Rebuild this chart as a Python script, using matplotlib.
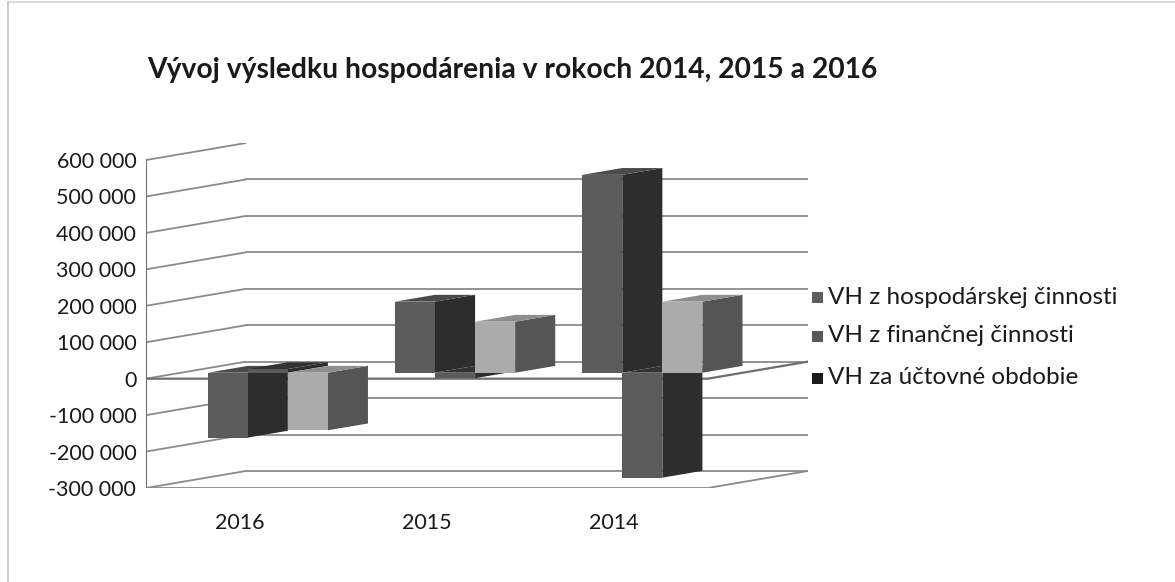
import matplotlib
matplotlib.use("Agg")
import matplotlib.pyplot as plt
from matplotlib.patches import Polygon, Rectangle
from matplotlib.lines import Line2D

# ---------------- data ----------------
categories = ["2016", "2015", "2014"]
series_names = ["VH z hospodárskej činnosti", "VH z finančnej činnosti", "VH za účtovné obdobie"]
vh_hospodarska = [-178000, 195000, 543000]
vh_financna = [10000, -15000, -288000]
vh_obdobie = [-158000, 140000, 195000]
series_values = [vh_hospodarska, vh_financna, vh_obdobie]
y_ticks = [-300000, -200000, -100000, 0, 100000, 200000, 300000, 400000, 500000, 600000]
y_tick_labels = ["-300 000", "-200 000", "-100 000", "0", "100 000", "200 000",
                 "300 000", "400 000", "500 000", "600 000"]
title = "Vývoj výsledku hospodárenia v rokoch 2014, 2015 a 2016"

# ---------------- style ----------------
front_cols = ["#5b5b5b", "#5b5b5b", "#ababab"]
side_cols = ["#2d2d2d", "#2d2d2d", "#555555"]
top_cols = ["#4a4a4a", "#333333", "#8e8e8e"]
legend_cols = ["#5e5e5e", "#585858", "#1c1c1c"]
grid_col = "#8a8a8a"
FONT = "Lato"

W, H = 1175, 582
fig = plt.figure(figsize=(W / 100, H / 100), dpi=100)
fig.patch.set_facecolor("white")

# chart frame
fig.add_artist(Line2D([8 / W, 8 / W], [0, 1 - 2 / H], color="#c4c4c4", lw=1.2))
fig.add_artist(Line2D([8 / W, 1], [1 - 2 / H, 1 - 2 / H], color="#d4d4d4", lw=1.2))

left_px, right_px, top_px, bot_px = 146, 808, 143, 488
ax = fig.add_axes([left_px / W, (H - bot_px) / H, (right_px - left_px) / W, (bot_px - top_px) / H])

DX = 0.535      # wall depth, category units
DY = 46800      # wall depth, value units
ymin, ymax = y_ticks[0], y_ticks[-1]
ax.set_xlim(-0.5, len(categories) - 0.5 + DX)
ax.set_ylim(ymin, ymax + DY)
for s in ax.spines.values():
    s.set_visible(False)

x0, x1 = -0.5, len(categories) - 0.5
# walls / gridlines
for v in y_ticks:
    ax.plot([x0, x0 + DX], [v, v + DY], color=grid_col, lw=1.3, zorder=1, solid_capstyle="butt")
    if v < ymax:
        ax.plot([x0 + DX, x1 + DX], [v + DY, v + DY], color=grid_col, lw=1.3, zorder=1)
ax.plot([x0, x0], [ymin, ymax], color="#6e6e6e", lw=1.5, zorder=2)
ax.plot([x0, x1, x1 + DX], [ymin, ymin, ymin + DY], color=grid_col, lw=1.3, zorder=1)
# category axis line at zero
ax.plot([x0, x1, x1 + DX], [0, 0, DY], color="#6e6e6e", lw=1.6, zorder=2)

# bars
d0, d1 = 0.35, 0.75
BAR_W = 0.214
base = d0 * DY
ddx = (d1 - d0) * DX
ddy = (d1 - d0) * DY
for k, vals in enumerate(series_values):
    lefts = [i - 0.358 + d0 * DX + k * BAR_W for i in range(len(categories))]
    bars = ax.bar(lefts, vals, width=BAR_W, bottom=base, align="edge",
                  color=front_cols[k], edgecolor="none", label=series_names[k])
    for i, (patch, v) in enumerate(zip(bars.patches, vals)):
        z = 10 + i * 10 + k * 3
        patch.set_zorder(z + 2)
        xl = lefts[i]
        xr = xl + BAR_W
        ytop = base + max(v, 0)
        ybot = base + min(v, 0)
        side = Polygon([(xr, ybot), (xr, ytop), (xr + ddx, ytop + ddy), (xr + ddx, ybot + ddy)],
                       closed=True, facecolor=side_cols[k], edgecolor="none", zorder=z)
        topf = Polygon([(xl, ytop), (xr, ytop), (xr + ddx, ytop + ddy), (xl + ddx, ytop + ddy)],
                       closed=True, facecolor=top_cols[k], edgecolor="none", zorder=z + 1)
        ax.add_patch(side)
        ax.add_patch(topf)

ax.set_yticks(y_ticks)
ax.set_yticklabels(y_tick_labels, fontsize=15.5, family=FONT, color="#1a1a1a")
ax.set_xticks(range(len(categories)))
ax.set_xticklabels(categories, fontsize=15.5, family=FONT, color="#1a1a1a")
ax.tick_params(axis="y", length=0, pad=7)
ax.tick_params(axis="x", length=0, pad=18)

fig.text(147 / W, 1 - 70 / H, title, fontsize=20.3, fontweight="bold", family=FONT,
         color="#1a1a1a", ha="left", va="center")

# legend
leg_y = [297, 336, 378]
for k in range(3):
    fig.add_artist(Rectangle((812 / W, 1 - (leg_y[k] + 6) / H), 11 / W, 11 / H,
                             transform=fig.transFigure, facecolor=legend_cols[k], edgecolor="none"))
    fig.text(828 / W, 1 - leg_y[k] / H, series_names[k], fontsize=17.5, family=FONT,
             color="#1a1a1a", ha="left", va="center")

fig.savefig("out.png", dpi=100, facecolor="white")
